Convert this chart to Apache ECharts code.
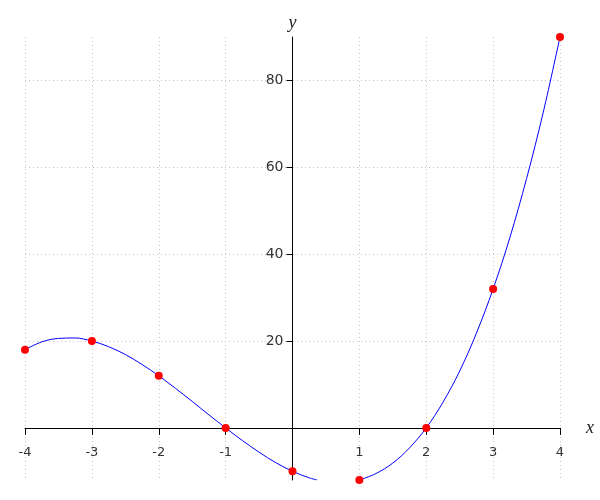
<!DOCTYPE html>
<html><head><meta charset="utf-8">
<script src="https://cdn.jsdelivr.net/npm/echarts@6/dist/echarts.min.js"></script>
<style>html,body{margin:0;padding:0;background:#fff}#c{width:600px;height:500px}</style>
</head><body><div id="c"></div>
<script>
const pointX = [-4, -3, -2, -1, 0, 1, 2, 3, 4];
const pointY = [18, 20, 12, 0, -10, -12, 0, 32, 90];
const curveX = [-4, -3.75, -3.5, -3.25, -3, -2.75, -2.5, -2.25, -2, -1.75, -1.5, -1.25, -1, -0.75, -0.5, -0.25, 0, 0.25, 0.37, 0.6, 1, 1.25, 1.5, 1.75, 2, 2.25, 2.5, 2.75, 3, 3.25, 3.5, 3.75, 4];
const curveY = [18, 19.8, 20.6, 20.7, 20, 18.7, 16.9, 14.6, 12, 9.1, 6.1, 3.0, 0, -2.9, -5.6, -8.0, -10, -11.5, -12, '-', -12, -10.5, -8.1, -4.6, 0, 5.9, 13.1, 21.8, 32, 43.8, 57.4, 72.7, 90];
const xTickLabels = [-4, -3, -2, -1, 1, 2, 3, 4];
const yTickLabels = [20, 40, 60, 80];

const X_MIN = -4, X_MAX = 4, Y_MIN = -12, Y_MAX = 90;
const G = {left: 25, right: 40, top: 37, bottom: 20};
const W = 600, H = 500;
const gw = W - G.left - G.right, gh = H - G.top - G.bottom;
// axis crossing positions (offset from grid edges), derived from scale
const xAxisOffset = -gh * (0 - Y_MIN) / (Y_MAX - Y_MIN);
const yAxisOffset = -gw * (0 - X_MIN) / (X_MAX - X_MIN);

const chart = echarts.init(document.getElementById('c'), null, {renderer: 'canvas'});
const nameStyle = {color: '#222', fontSize: 18, fontStyle: 'italic', fontFamily: 'Liberation Serif'};
const gridLine = {show: true, lineStyle: {color: '#c4c4c4', type: [1, 3], width: 1}};
chart.setOption({
  animation: false,
  grid: Object.assign({containLabel: false, outerBoundsMode: 'none'}, G),
  xAxis: {
    type: 'value', min: X_MIN, max: X_MAX, interval: 1,
    position: 'bottom', offset: xAxisOffset,
    name: 'x', nameLocation: 'end', nameGap: 26, nameTextStyle: nameStyle,
    axisLine: {onZero: false, lineStyle: {color: '#000', width: 1}},
    axisTick: {show: true, length: 7, inside: false, lineStyle: {color: '#000'}},
    axisLabel: {margin: 18, customValues: xTickLabels, color: '#333', fontSize: 13, fontFamily: 'DejaVu Sans'},
    splitLine: gridLine
  },
  yAxis: {
    type: 'value', min: Y_MIN, max: Y_MAX,
    position: 'left', offset: yAxisOffset,
    name: 'y', nameLocation: 'end', nameGap: 5, nameTextStyle: nameStyle,
    axisLine: {onZero: false, lineStyle: {color: '#000', width: 1}},
    axisTick: {show: true, length: 6, customValues: yTickLabels, lineStyle: {color: '#000'}},
    axisLabel: {margin: 9, customValues: yTickLabels, color: '#333', fontSize: 14, fontFamily: 'DejaVu Sans'},
    splitLine: gridLine
  },
  series: [
    {
      type: 'line', data: curveX.map((x, i) => [x, curveY[i]]),
      smooth: 0.35, showSymbol: false, symbol: 'none', connectNulls: false,
      lineStyle: {color: '#0000ff', width: 1}, clip: true, silent: true
    },
    {
      type: 'scatter', data: pointX.map((x, i) => [x, pointY[i]]),
      symbolSize: 8, itemStyle: {color: '#ff0000', opacity: 1}, clip: false, z: 5
    }
  ]
});
</script></body></html>
